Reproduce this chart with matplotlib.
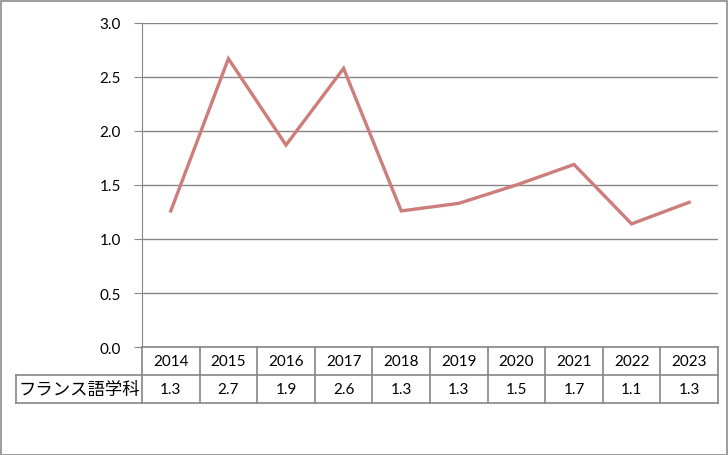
import matplotlib
matplotlib.use("Agg")
import matplotlib.pyplot as plt
from matplotlib.patches import Rectangle
from matplotlib.transforms import blended_transform_factory

years = ["2014", "2015", "2016", "2017", "2018", "2019", "2020", "2021", "2022", "2023"]
french = [1.26, 2.67, 1.87, 2.58, 1.26, 1.33, 1.50, 1.69, 1.14, 1.34]
series_name = "フランス語学科"
yticks = [0.0, 0.5, 1.0, 1.5, 2.0, 2.5, 3.0]

W, H = 728, 456
grid_col = "#868686"
line_col = "#CD7D7B"
num_font = ["Lato", "DejaVu Sans"]
jp_font = ["Noto Sans CJK JP", "DejaVu Sans"]

fig = plt.figure(figsize=(W / 100, H / 100), dpi=100)
fig.patches.append(Rectangle((0.5 / W, 0.5 / H), (W - 2) / W, (H - 2) / H,
                             transform=fig.transFigure, fill=False,
                             edgecolor="#8c8c8c", linewidth=1.2))

# plot area in pixels
x0, x1, ytop, ybot = 142, 718, 24, 348
ax = fig.add_axes([x0 / W, 1 - ybot / H, (x1 - x0) / W, (ybot - ytop) / H])

xs = list(range(len(years)))
ax.plot(xs, french, color=line_col, linewidth=2.4, solid_joinstyle="miter", zorder=3)
ax.set_xlim(-0.5, len(years) - 0.5)
ax.set_ylim(0, 3.0)
ax.set_yticks(yticks)
ax.set_yticklabels([f"{v:.1f}" for v in yticks], fontfamily=num_font, fontsize=11)
ax.set_xticks([])
for v in yticks:
    ax.axhline(v, color=grid_col, linewidth=1.0, zorder=1)
for s in ["top", "right", "bottom"]:
    ax.spines[s].set_visible(False)
ax.spines["left"].set_color(grid_col)
ax.tick_params(axis="y", length=6, color=grid_col, pad=9)

# data table below the plot
row_h = 28 / (ybot - ytop)
label_left = -0.5 - (x0 - 16) / ((x1 - x0) / len(years))
bt = blended_transform_factory(ax.transData, ax.transAxes)
lk = dict(color=grid_col, linewidth=1.2, clip_on=False, transform=bt)

# horizontal lines
ax.plot([-0.5, len(years) - 0.5], [0, 0], **lk)
ax.plot([label_left, len(years) - 0.5], [-row_h, -row_h], **lk)
ax.plot([label_left, len(years) - 0.5], [-2 * row_h, -2 * row_h], **lk)
# vertical lines
for i in range(len(years) + 1):
    ax.plot([i - 0.5, i - 0.5], [0, -2 * row_h], **lk)
ax.plot([label_left, label_left], [-row_h, -2 * row_h], **lk)

for i, (yr, v) in enumerate(zip(years, french)):
    ax.text(i, -0.5 * row_h, yr, transform=bt, ha="center", va="center",
            fontfamily=num_font, fontsize=11)
    ax.text(i, -1.5 * row_h, f"{v:.1f}", transform=bt, ha="center", va="center",
            fontfamily=num_font, fontsize=11)
ax.text(label_left + 0.04, -1.5 * row_h, series_name, transform=bt, ha="left",
        va="center", fontfamily=jp_font, fontsize=12.5)

fig.savefig("out.png", dpi=100)
